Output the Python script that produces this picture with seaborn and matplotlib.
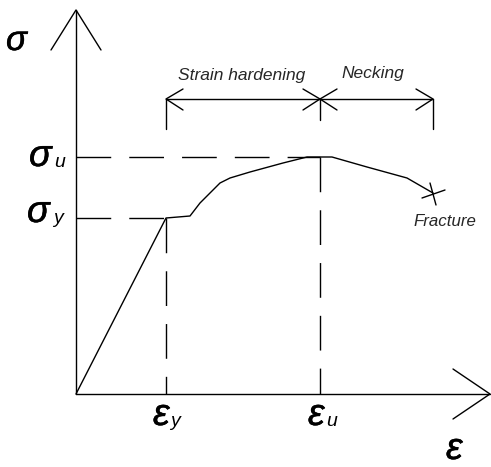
import numpy as np
import matplotlib
matplotlib.use('Agg')
import matplotlib.pyplot as plt
import matplotlib.patheffects as pe
import seaborn as sns

sns.set_style('white')
plt.rcParams['font.family'] = ['Liberation Sans', 'DejaVu Sans']
plt.rcParams['lines.scale_dashes'] = False

# stress-strain curve (arbitrary units, origin at axes corner)
strain = [0, 90, 114, 124, 134, 144, 154, 174, 207, 231, 244, 256, 291, 331, 357]
stress = [0, 176, 178, 191, 201, 211, 216, 222, 231, 237, 237, 237, 227, 216, 201]

eps_y, sig_y = 90, 176      # yield
eps_u, sig_u = 244, 237     # ultimate
eps_f, sig_f = 357, 201     # fracture

x_end = 414
y_end = 384
bracket_y = 295

regions = ['Strain hardening', 'Necking']

fig = plt.figure(figsize=(4.91, 4.67), dpi=100)
ax = fig.add_axes([0, 0, 1, 1])
ax.set_xlim(-76, 415)
ax.set_ylim(-73, 394)
ax.axis('off')

lw = 1.0
k = 'black'

# axes with open arrow heads
ax.plot([0, 0], [0, y_end], color=k, lw=lw)
ax.plot([-25, 0, 25], [y_end - 40, y_end, y_end - 40], color=k, lw=lw)
ax.plot([0, x_end], [0, 0], color=k, lw=lw)
ax.plot([x_end - 37, x_end, x_end - 37], [25, 0, -25], color=k, lw=lw)

# curve
sns.lineplot(x=strain, y=stress, sort=False, estimator=None, color=k, lw=lw, ax=ax)

# dashed guides
dash = (25, 13)
ax.plot([0, eps_y], [sig_y, sig_y], color=k, lw=lw, dashes=dash)
ax.plot([0, eps_u], [sig_u, sig_u], color=k, lw=lw, dashes=dash)
ax.plot([eps_y, eps_y], [sig_y, 0], color=k, lw=lw, dashes=dash)
ax.plot([eps_u, eps_u], [sig_u, 0], color=k, lw=lw, dashes=dash)

# brackets on top
ax.plot([eps_y, eps_f], [bracket_y, bracket_y], color=k, lw=lw)
ax.plot([eps_y, eps_y], [bracket_y, bracket_y - 30], color=k, lw=lw)
ax.plot([eps_u, eps_u], [bracket_y, bracket_y - 21], color=k, lw=lw)
ax.plot([eps_f, eps_f], [bracket_y, bracket_y - 30], color=k, lw=lw)
for xt, d in [(eps_y, 17), (eps_u, -17), (eps_u, 17), (eps_f, -17)]:
    ax.plot([xt + d, xt, xt + d], [bracket_y + 10, bracket_y, bracket_y - 11], color=k, lw=lw)

ax.text((eps_y + eps_u) / 2 - 1, bracket_y + 19, regions[0], fontsize=12.5, style='italic',
        ha='center', va='baseline')
ax.text((eps_u + eps_f) / 2 - 4, bracket_y + 21, regions[1], fontsize=12.5, style='italic',
        ha='center', va='baseline')

# fracture mark
ax.plot([eps_f - 11, eps_f + 12], [sig_f - 5, sig_f + 3], color=k, lw=lw)
ax.plot([eps_f - 3, eps_f + 3], [sig_f + 10, sig_f - 12], color=k, lw=lw)
ax.text(eps_f + 12, 168, 'Fracture', fontsize=12.2, style='italic', ha='center', va='baseline')

# slightly heavier strokes for the big symbols
heavy = [pe.withStroke(linewidth=0.35, foreground=k)]


# symbols: main glyph + subscript, both italic
def symbol(x, y, main, sub=None, xs=None, fs=27, fss=14):
    ax.text(x, y, main, fontsize=fs, style='italic', ha='left', va='baseline',
            color=k, path_effects=heavy)
    if sub:
        ax.text(xs, y - 1, sub, fontsize=fss, style='italic', ha='left', va='baseline',
                color=k)


symbol(-70, 344, '\u03c3', fs=25)
symbol(-47, 228, '\u03c3', 'u', -22)
symbol(-49, 172, '\u03c3', 'y', -23)
symbol(77, -31, '\u03b5', 'y', 94)
symbol(232, -31, '\u03b5', 'u', 250)
ax.text(370, -73, '\u03b5', fontsize=27, style='italic', ha='left', va='bottom',
        color=k, path_effects=heavy)

fig.savefig('out.png', dpi=100)
